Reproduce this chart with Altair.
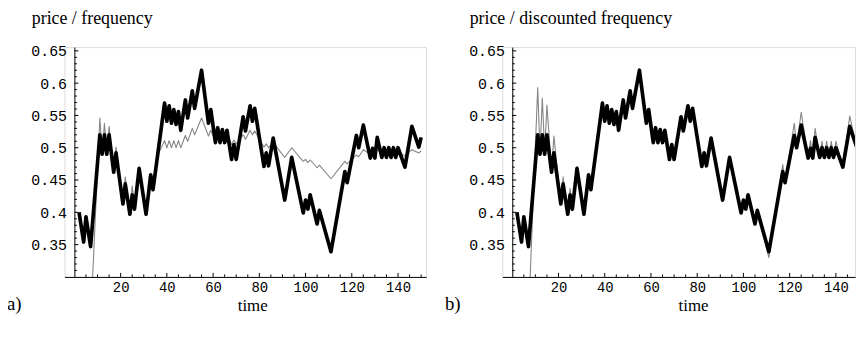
import altair as alt
import pandas as pd

# ---------------- data ----------------
price_t = [2, 4, 5, 7, 11, 12, 13, 14, 15, 17, 18, 21, 22, 24, 25, 26, 28, 31, 33, 34,
           39, 40, 41, 42, 43, 44, 45, 46, 48, 49, 51, 52, 55, 58, 59, 61, 62, 63, 64, 65,
           66, 68, 69, 70, 73, 74, 76, 77, 78, 82, 83, 84, 86, 91, 94, 99, 100, 101, 102,
           105, 106, 111, 117, 118, 122, 123, 125, 128, 129, 130, 131, 133, 134, 135, 136,
           137, 138, 139, 140, 143, 146, 149, 150]
price_v = [0.400, 0.354, 0.393, 0.347, 0.520, 0.490, 0.520, 0.490, 0.520, 0.462, 0.492,
           0.413, 0.444, 0.397, 0.427, 0.405, 0.468, 0.397, 0.458, 0.435,
           0.569, 0.541, 0.565, 0.538, 0.559, 0.536, 0.556, 0.527, 0.574, 0.546, 0.588,
           0.561, 0.620, 0.538, 0.559, 0.508, 0.531, 0.508, 0.528, 0.508,
           0.527, 0.482, 0.505, 0.482, 0.548, 0.526, 0.565, 0.541, 0.561, 0.471, 0.492,
           0.472, 0.515, 0.419, 0.485, 0.399, 0.419, 0.405, 0.427,
           0.382, 0.403, 0.339, 0.463, 0.446, 0.519, 0.500, 0.535, 0.484, 0.499, 0.484,
           0.516, 0.485, 0.500, 0.485, 0.500,
           0.485, 0.500, 0.485, 0.500, 0.470, 0.533, 0.501, 0.516]

freq_t = [7, 11, 12, 13, 14, 15, 17, 18, 21, 22, 24, 25, 26, 28, 31, 33, 34, 36,
          39, 40, 41, 42, 43, 44, 45, 46, 48, 49, 51, 52, 55, 58, 59, 61, 62, 63, 64, 65,
          66, 68, 69, 70, 73, 74, 76, 77, 78, 82, 83, 84, 86, 91, 94, 99, 100, 101, 102,
          105, 106, 111, 117, 118, 122, 123, 125, 128, 129, 130, 131, 133, 134, 135, 136,
          137, 138, 139, 140, 143, 146, 149, 150]
freq_v = [0.230, 0.546, 0.492, 0.538, 0.492, 0.533, 0.465, 0.501, 0.416, 0.455, 0.400,
          0.441, 0.408, 0.470, 0.400, 0.459, 0.438, 0.488,
          0.511, 0.500, 0.511, 0.500, 0.511, 0.500, 0.511, 0.500, 0.519, 0.510, 0.530,
          0.520, 0.546, 0.518, 0.527, 0.510, 0.521, 0.510, 0.520, 0.510,
          0.519, 0.505, 0.512, 0.506, 0.520, 0.513, 0.527, 0.520, 0.526, 0.501, 0.506,
          0.500, 0.508, 0.485, 0.500, 0.479, 0.482, 0.477, 0.481,
          0.469, 0.473, 0.452, 0.479, 0.475, 0.489, 0.486, 0.497, 0.490, 0.494, 0.490,
          0.497, 0.490, 0.494, 0.490, 0.494,
          0.490, 0.494, 0.490, 0.494, 0.487, 0.497, 0.492, 0.495]

disc_t = [7] + price_t[4:]
disc_v = [0.235, 0.593, 0.494, 0.577, 0.494, 0.566, 0.465, 0.518, 0.414, 0.455, 0.396,
          0.437, 0.405, 0.471, 0.396, 0.460, 0.435,
          0.571, 0.541, 0.566, 0.538, 0.560, 0.536, 0.557, 0.527, 0.576, 0.546, 0.590,
          0.561, 0.622, 0.538, 0.560, 0.508, 0.532, 0.508, 0.529, 0.508,
          0.528, 0.482, 0.506, 0.482, 0.549, 0.526, 0.566, 0.541, 0.562, 0.471, 0.493,
          0.472, 0.516, 0.419, 0.486, 0.399, 0.420, 0.405, 0.428,
          0.382, 0.404, 0.330, 0.474, 0.447, 0.538, 0.503, 0.555, 0.484, 0.511, 0.484,
          0.530, 0.485, 0.510, 0.485, 0.510,
          0.485, 0.510, 0.485, 0.510, 0.470, 0.549, 0.500, 0.520]

x_labels = [20, 40, 60, 80, 100, 120, 140]
y_labels = [0.35, 0.4, 0.45, 0.5, 0.55, 0.6, 0.65]
panel_titles = ["price / frequency", "price / discounted frequency"]
panel_letters = ["a)", "b)"]
x_title = "time"

# ---------------- layout ----------------
PX = 7 / 3.0
X0 = -4.3
H = 232
Y_DOM = [0.30, 0.30 + H / 652.0]
AXIS_X = -X0 * PX
MONO = "Liberation Mono"
SERIF = "Liberation Serif"
GRAY = "#858585"

price_df = pd.DataFrame({"t": price_t, "v": price_v})
freq_df = pd.DataFrame({"t": freq_t, "v": freq_v})
disc_df = pd.DataFrame({"t": disc_t, "v": disc_v})

x_minor = [v for v in range(5, 155, 5) if v % 20 != 0]
y_minor = [round(0.31 + 0.01 * i, 2) for i in range(35)]
y_minor = [v for v in y_minor if round(v * 100) % 5 != 0]


def panel(gray_df, width, title, letter, time_x):
    xmax = X0 + width / PX
    xs = alt.Scale(domain=[X0, xmax], nice=False, zero=False)
    ys = alt.Scale(domain=Y_DOM, nice=False, zero=False)
    x_axis = alt.Axis(values=x_labels, format="d", title=None, grid=False, ticks=False,
                      tickSize=0, labelFont=MONO, labelFontSize=14, labelColor="black",
                      labelPadding=4, domainColor="black", domainWidth=1,
                      labelOverlap=False, labelFlush=False)
    y_axis = alt.Axis(values=y_labels, format=".2~f", title=None, grid=False, ticks=False,
                      tickSize=0, offset=-AXIS_X, labelFont=MONO, labelFontSize=15,
                      labelColor="black", labelPadding=8, domainColor="black",
                      domainWidth=1, labelOverlap=False, labelFlush=False)
    X = alt.X("t:Q", scale=xs, axis=x_axis)
    Y = alt.Y("v:Q", scale=ys, axis=y_axis)
    gray = alt.Chart(gray_df).mark_line(color=GRAY, strokeWidth=1.1, clip=True,
                                        strokeJoin="round").encode(x=X, y=Y)
    black = alt.Chart(price_df).mark_line(color="black", strokeWidth=3.7, clip=True,
                                          strokeJoin="round").encode(x=X, y=Y)

    def xticks(vals, ln):
        return alt.Chart(pd.DataFrame({"t": vals})).mark_rule(
            color="black", strokeWidth=1, clip=True).encode(
            x=X, y=alt.value(H), y2=alt.value(H - ln))

    def yticks(vals, ln):
        return alt.Chart(pd.DataFrame({"v": vals})).mark_rule(
            color="black", strokeWidth=1).encode(
            y=Y, x=alt.value(AXIS_X), x2=alt.value(AXIS_X + ln))

    def txt(s, x, y, size, align="left"):
        return alt.Chart(pd.DataFrame({"s": [s]})).mark_text(
            font=SERIF, fontSize=size, align=align, baseline="alphabetic",
            color="black").encode(text="s:N", x=alt.value(x), y=alt.value(y))

    return alt.layer(
        gray, black,
        xticks(x_labels, 4), xticks(x_minor, 2.5),
        yticks(y_labels, 4), yticks(y_minor, 2.5),
        txt(title, -33, -23, 18),
        txt(x_title, time_x, 266, 17, "center"),
        txt(letter, -58, 265, 19),
    ).properties(width=width, height=H)


pa = panel(freq_df, 365, panel_titles[0], panel_letters[0], 190)
pb = panel(disc_df, 356, panel_titles[1], panel_letters[1], 193)

chart = alt.hconcat(pa, pb, spacing=77, bounds="flush").properties(
    padding={"top": 0, "left": -2, "right": 0, "bottom": 0}
).configure_view(stroke="transparent").configure(background="white")

chart.save("out.html", embed_options={"renderer": "svg", "actions": False})
